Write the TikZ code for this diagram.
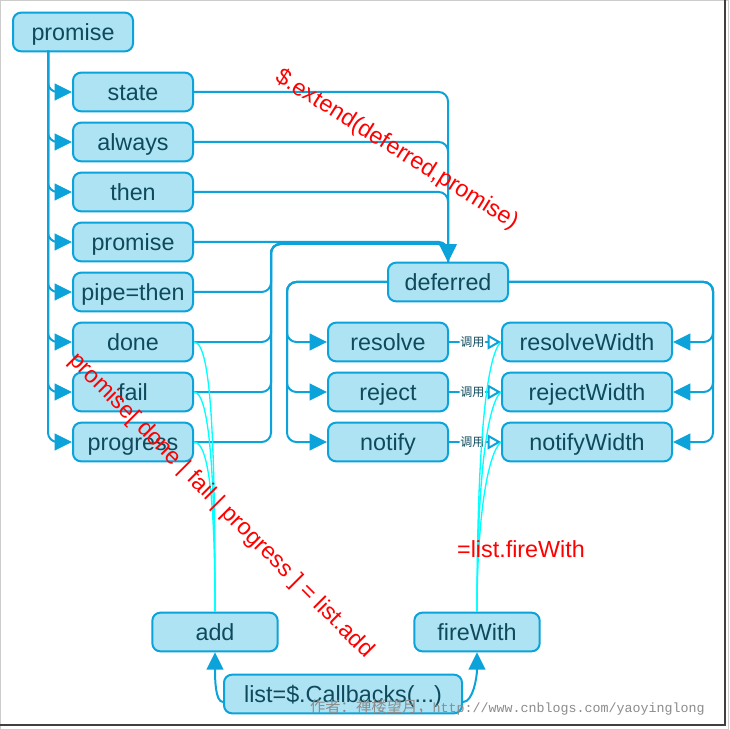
\documentclass[tikz,border=0pt]{standalone}
\usepackage{fontspec}
\setmainfont{Liberation Sans}
\newfontfamily\cjk{Noto Sans CJK SC}
\newfontfamily\wmono{Liberation Mono}
\usetikzlibrary{arrows.meta}
\definecolor{boxfill}{HTML}{AEE3F3}
\definecolor{boxline}{HTML}{0BA3D9}
\definecolor{boxtext}{HTML}{0E4A5C}
\definecolor{feedcyan}{HTML}{00FFFF}

\begin{document}
\begin{tikzpicture}[x=0.75pt, y=-0.75pt, >={Triangle[length=13pt,width=12.5pt]},
  box/.style={draw=boxline, fill=boxfill, line width=1.5pt, rounded corners=6pt,
    minimum width=90pt, minimum height=29pt, inner sep=0pt, text=boxtext,
    text height=13pt, text depth=0pt, font=\fontsize{17.5}{20}\selectfont},
  link/.style={draw=boxline, line width=1.5pt, rounded corners=7pt},
  feed/.style={draw=feedcyan, line width=1pt},
  call/.style={fill=white, inner sep=0.5pt, text=boxtext, font=\cjk\fontsize{9}{10}\selectfont},
  note/.style={text=red, inner sep=0pt, font=\fontsize{17.5}{20}\selectfont},
  wmark/.style={text=black!45, inner sep=0pt}]

\useasboundingbox (0,0) rectangle (729,730);
\fill[white] (0,0) rectangle (729,730);
\draw[black!20] (0.5,0.5) rectangle (728.5,729.5);
\draw[black!75, line width=1.2pt] (725,0) -- (725,725) -- (0,725);

% promise and its methods
\node[box] (root) at (73,32) {promise};
\node[box] (state) at (133,92) {state};
\node[box] (always) at (133,142) {always};
\node[box] (then) at (133,192) {then};
\node[box] (promise) at (133,242) {promise};
\node[box] (pipe) at (133,292) {pipe=then};
\node[box] (done) at (133,342) {done};
\node[box] (fail) at (133,392) {fail};
\node[box] (progress) at (133,442) {progress};

% deferred
\node[box] (deferred) at (448,282) {deferred};
\node[box] (resolve) at (388,342) {resolve};
\node[box] (reject) at (388,392) {reject};
\node[box] (notify) at (388,442) {notify};
\node[box, minimum width=127.5pt] (resolveWidth) at (587,342) {resolveWidth};
\node[box, minimum width=127.5pt] (rejectWidth) at (587,392) {rejectWidth};
\node[box, minimum width=127.5pt] (notifyWidth) at (587,442) {notifyWidth};

% callbacks
\node[box, minimum width=94pt] (add) at (215,632) {add};
\node[box, minimum width=94pt] (fireWith) at (477,632) {fireWith};
\node[box, minimum width=178.5pt] (list) at (343,694) {list=\$.Callbacks(...)};

\coordinate (trunk) at (48,51);
\draw[link,->] (trunk) |- (state.west);
\draw[link,->] (trunk) |- (always.west);
\draw[link,->] (trunk) |- (then.west);
\draw[link,->] (trunk) |- (promise.west);
\draw[link,->] (trunk) |- (pipe.west);
\draw[link,->] (trunk) |- (done.west);
\draw[link,->] (trunk) |- (fail.west);
\draw[link,->] (trunk) |- (progress.west);

\draw[link,->] (state.east) -| (deferred.north);
\draw[link,->] (always.east) -| (deferred.north);
\draw[link,->] (then.east) -| (deferred.north);
\draw[link,->] (promise.east) -| (deferred.north);
\coordinate (join) at (271,244);
\draw[link] (pipe.east) -| (join) -| (deferred.north);
\draw[link] (done.east) -| (join) -| (deferred.north);
\draw[link] (fail.east) -| (join) -| (deferred.north);
\draw[link] (progress.east) -| (join) -| (deferred.north);

\draw[link,->] (deferred.west) -| ([xshift=-30pt]resolve.west) -- (resolve.west);
\draw[link,->] (deferred.west) -| ([xshift=-30pt]reject.west) -- (reject.west);
\draw[link,->] (deferred.west) -| ([xshift=-30pt]notify.west) -- (notify.west);
\draw[link,->] (deferred.east) -| ([xshift=30pt]resolveWidth.east) -- (resolveWidth.east);
\draw[link,->] (deferred.east) -| ([xshift=30pt]rejectWidth.east) -- (rejectWidth.east);
\draw[link,->] (deferred.east) -| ([xshift=30pt]notifyWidth.east) -- (notifyWidth.east);

\draw[link,-{Triangle[open,length=10pt,width=11pt]}] (resolve.east) -- node[call, xshift=-2pt]{调用} (resolveWidth.west);
\draw[link,-{Triangle[open,length=10pt,width=11pt]}] (reject.east) -- node[call, xshift=-2pt]{调用} (rejectWidth.west);
\draw[link,-{Triangle[open,length=10pt,width=11pt]}] (notify.east) -- node[call, xshift=-2pt]{调用} (notifyWidth.west);

\draw[feed] (done.east) .. controls +(18,0) and +(0,-160) .. (add.north);
\draw[feed] (fail.east) .. controls +(16,0) and +(0,-130) .. (add.north);
\draw[feed] (progress.east) .. controls +(16,0) and +(0,-100) .. (add.north);
\draw[feed] (fireWith.north) .. controls +(0,-170) and +(-14,12) .. (resolveWidth.west);
\draw[feed] (fireWith.north) .. controls +(0,-130) and +(-14,12) .. (rejectWidth.west);
\draw[feed] (fireWith.north) .. controls +(0,-90) and +(-14,12) .. (notifyWidth.west);

\draw[link,->] ([yshift=-6pt]list.west) .. controls +(-8,0) and +(0,25) .. (add.south);
\draw[link,->] ([yshift=-6pt]list.east) .. controls +(10,0) and +(0,25) .. (fireWith.south);

% notes
\node[note, rotate=-32] (extendNote) at (397,150) {\$.extend(deferred,promise)};
\node[note, rotate=-45] (addNote) at (221,506) {promise[ done | fail | progress ] = list.add};
\node[note] (fireNote) at (521,549) {=list.fireWith};

\node[wmark, anchor=east] (author) at (705,707) {{\cjk\fontsize{11.5}{12}\selectfont 作者：禅楼望月，}{\wmono\fontsize{10}{12}\selectfont http://www.cnblogs.com/yaoyinglong}};

\end{tikzpicture}
\end{document}
